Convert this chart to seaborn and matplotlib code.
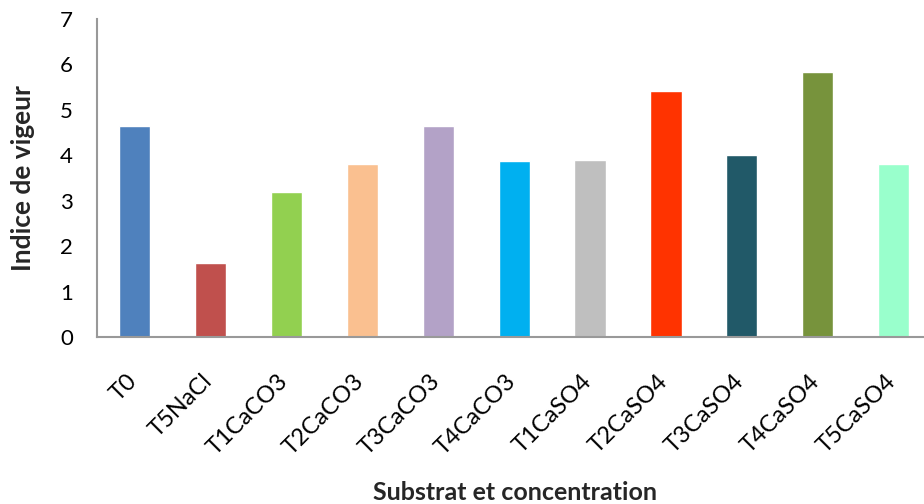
import matplotlib
matplotlib.use("Agg")
import matplotlib.pyplot as plt
import matplotlib.transforms as mtransforms
import seaborn as sns
import pandas as pd

# Vigour index per substrate / concentration treatment
categories = ["T0", "T5NaCl", "T1CaCO3", "T2CaCO3", "T3CaCO3", "T4CaCO3",
              "T1CaSO4", "T2CaSO4", "T3CaSO4", "T4CaSO4", "T5CaSO4"]
vigour = [4.65, 1.63, 3.20, 3.81, 4.65, 3.88, 3.90, 5.42, 4.01, 5.83, 3.81]
bar_colors = ["#4F81BD", "#C0504D", "#92D050", "#FAC090", "#B3A2C7", "#00B0F0",
              "#BFBFBF", "#FF3300", "#215968", "#77933C", "#99FFCC"]
y_ticks = [0, 1, 2, 3, 4, 5, 6, 7]

df = pd.DataFrame({"traitement": categories, "indice": vigour})

sns.set_style("white")
plt.rcParams["font.family"] = ["Lato", "DejaVu Sans"]

fig = plt.figure(figsize=(9.24, 5.04), dpi=100)
ax = fig.add_axes([96.7 / 924, (504 - 337.3) / 504, (931.6 - 96.7) / 924, (337.3 - 19) / 504])

sns.barplot(data=df, x="traitement", y="indice", hue="traitement",
            palette=dict(zip(categories, bar_colors)), order=categories,
            width=0.41, legend=False, saturation=1, ax=ax)

ax.set_xlim(-0.5, len(categories) - 0.5)
ax.set_ylim(0, 7)
ax.set_yticks(y_ticks)
ax.set_yticklabels([str(t) for t in y_ticks], fontsize=16)

spine_color = "#999999"
for side in ["top", "right"]:
    ax.spines[side].set_visible(False)
for side in ["left", "bottom"]:
    ax.spines[side].set_color(spine_color)
    ax.spines[side].set_linewidth(1.5)

# Category labels on major ticks (no tick mark), boundary marks on minor ticks
ax.set_xticks(range(len(categories)))
ax.set_xticklabels(categories, rotation=45, ha="right", fontsize=17)
ax.set_xticks([i - 0.5 for i in range(len(categories) + 1)], minor=True)
ax.tick_params(axis="x", which="major", length=0, pad=24)
ax.tick_params(axis="x", which="minor", length=6, width=1.5, color=spine_color, direction="out")
ax.tick_params(axis="y", length=6, width=1.5, color=spine_color, direction="out", pad=11)
ax.tick_params(axis="both", labelcolor="black")

shift = mtransforms.ScaledTranslation(6 / 100, 0, fig.dpi_scale_trans)
for lbl in ax.get_xticklabels():
    lbl.set_transform(lbl.get_transform() + shift)

ax.set_xlabel("")
ax.set_ylabel("")
fig.text(23 / 924, 1 - 178 / 504, "Indice de vigeur", rotation=90, ha="center", va="center",
         fontsize=19, fontweight="bold")
fig.text(515 / 924, 1 - 492 / 504, "Substrat et concentration", ha="center", va="center",
         fontsize=18, fontweight="bold")

fig.savefig("out.png", dpi=100, facecolor="white")
